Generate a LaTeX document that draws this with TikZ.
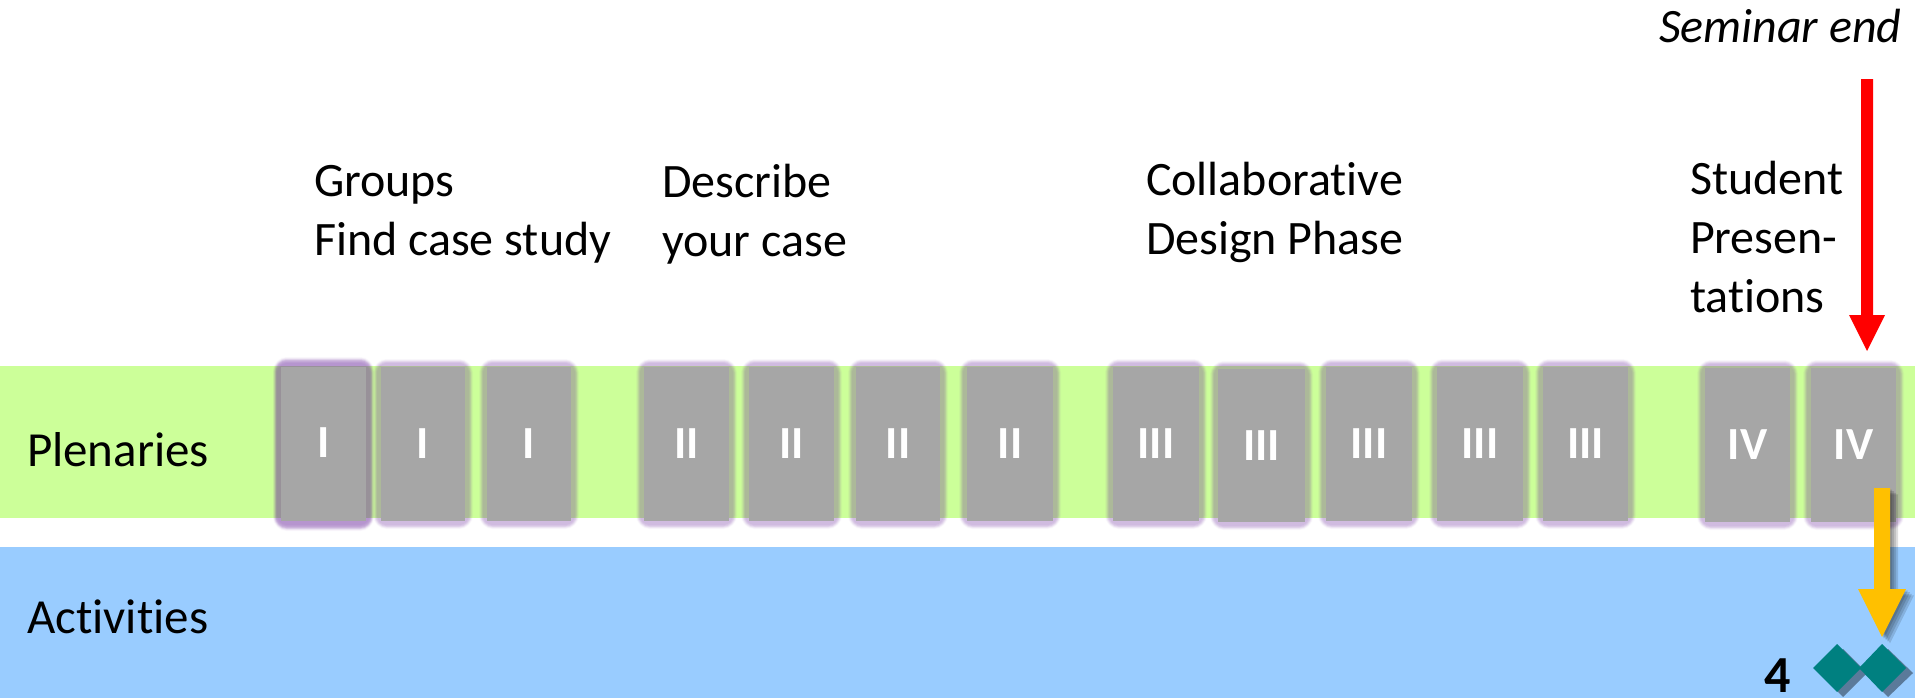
\documentclass[tikz,border=0pt]{standalone}
\usepackage{fontspec}
\setmainfont[Ligatures=CommonOff]{Carlito}
\definecolor{bandgreen}{HTML}{CCFF99}
\definecolor{bandblue}{HTML}{99CCFF}
\definecolor{boxgray}{HTML}{A6A6A6}
\definecolor{glow}{HTML}{7030A0}
\definecolor{teal2}{HTML}{008080}
\definecolor{slate}{HTML}{5B7A9A}
\definecolor{amber}{HTML}{FFC000}
\newcommand{\plenary}[6]{% name x1 y1 x2 y2 label
  \foreach \w/\o in {16/.03,14.5/.05,13/.07,11.5/.08,10/.08,8/.07}{
    \draw[glow,line width=\w*0.5pt,opacity=\o,rounded corners=3pt] (#2,#3) rectangle (#4,#5);}
  \node[boxtext,fill=boxgray,minimum width={(#4-#2)*0.5pt},minimum height={(#5-#3)*0.5pt}] (#1) at ({(#2+#4)/2},{(#3+#5)/2}) {\raisebox{-1pt}{#6}};
}
\newcommand{\amberpath}{(1874,488) -- (1890,488) -- (1890,589) -- (1906,589) -- (1882,637) -- (1858,589) -- (1874,589) -- cycle}
\tikzset{
  x=0.5pt,y=-0.5pt,
  boxtext/.style={inner sep=0pt,outer sep=0pt,text=white,font=\bfseries\fontsize{23}{27}\selectfont},
  label/.style={inner sep=0pt,outer sep=0pt,anchor=base west,align=left,font=\fontsize{24}{29.4}\selectfont},
  shadowlayer/.style={fill=black,opacity=.13},
}
\begin{document}
\begin{tikzpicture}
\useasboundingbox (0,0) rectangle (1915,698);
\fill[bandgreen] (0,366) rectangle (1915,518);
\fill[bandblue] (0,547) rectangle (1915,698);
\foreach \w/\o in {16/.03,14.5/.05,13/.07,11.5/.08,10/.08}{
  \draw[glow,line width=\w*0.5pt,opacity=\o,rounded corners=3pt] (281,365) rectangle (366,523);}
\plenary{a1}{281}{367}{366}{521}{\raisebox{1pt}{I}}
\plenary{a2}{381}{367}{465}{521}{I}
\plenary{a3}{487}{367}{571}{521}{I}
\plenary{b1}{644}{367}{729}{521}{II}
\plenary{b2}{749}{367}{834}{521}{II}
\plenary{b3}{856}{367}{940}{521}{II}
\plenary{b4}{967}{367}{1053}{521}{II}
\plenary{c1}{1113}{367}{1199}{521}{III}
\plenary{c2}{1218}{369}{1305}{522}{III}
\plenary{c3}{1326}{367}{1412}{521}{III}
\plenary{c4}{1437}{367}{1523}{521}{III}
\plenary{c5}{1543}{367}{1628}{521}{III}
\plenary{d1}{1705}{368}{1790}{522}{IV}
\plenary{d2}{1811}{368}{1896}{522}{IV}
\node[label,font=\fontsize{24.5}{29}\selectfont] (pl) at (27,466) {Plenaries};
\node[label,font=\fontsize{24.5}{29}\selectfont] (ac) at (27,633) {Activities};
\node[label] (t1) at (314,255) {Groups\\Find case study};
\node[label] (t2) at (662,256) {Describe\\your case};
\node[label] (t3) at (1146,254) {Collaborative\\Design Phase};
\node[label] (t4) at (1690,312) {Student\\Presen-\\tations};
\node[label,font=\itshape\fontsize{24}{28}\selectfont] (se) at (1659,42) {Seminar end};
\fill[red] (1861,79) -- (1873,79) -- (1873,315) -- (1885,315) -- (1867,351) -- (1849,315) -- (1861,315) -- cycle;
\foreach \d in {2,4,6,8}{
  \fill[shadowlayer,xshift=\d*0.5pt,yshift=-\d*0.4pt] \amberpath;}
\fill[amber] \amberpath;
\node[inner sep=0pt,anchor=base east,font=\bfseries\fontsize{26}{30}\selectfont] (pg) at (1791,692) {4};
\fill[slate] (1843,649) -- (1867,673) -- (1843,697) -- (1819,673) -- cycle;
\fill[slate] (1888,649) -- (1913,673) -- (1888,697) -- (1865,673) -- cycle;
\fill[teal2] (1837,644) -- (1861,668) -- (1837,692) -- (1813,668) -- cycle;
\fill[teal2] (1882,644) -- (1906,668) -- (1882,692) -- (1859,668) -- cycle;
\end{tikzpicture}
\end{document}
